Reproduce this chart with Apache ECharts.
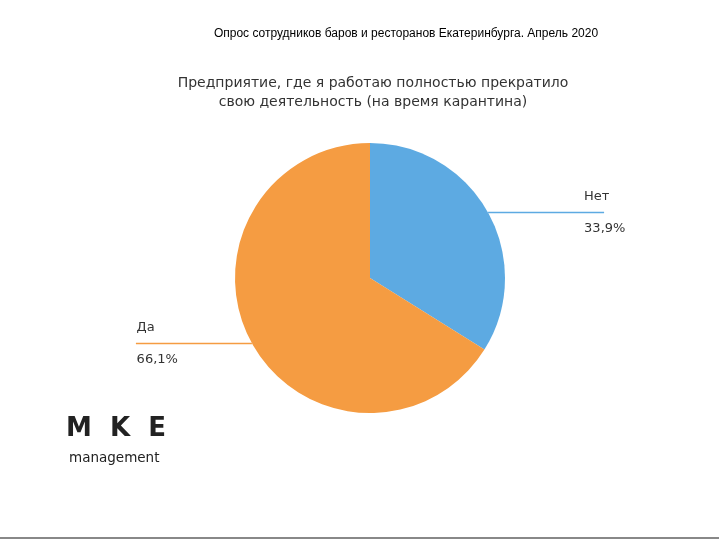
<!DOCTYPE html>
<html><head><meta charset="utf-8">
<script src="https://cdn.jsdelivr.net/npm/echarts@6/dist/echarts.min.js"></script>
<style>html,body{margin:0;padding:0;background:#fff}#c{width:719px;height:540px}</style>
</head><body><div id="c"></div>
<script>
var mainTitle = 'Опрос сотрудников баров и ресторанов Екатеринбурга. Апрель 2020';
var subTitle = 'Предприятие, где я работаю полностью прекратило\nсвою деятельность (на время карантина)';
var categories = ['Нет', 'Да'];
var values = [33.9, 66.1];
var colors = ['#5DAAE2', '#F59C42'];
var labelShift = [-20, -42];

var chart = echarts.init(document.getElementById('c'), null, {renderer: 'canvas'});
var data = categories.map(function (c, i) {
  return {
    name: c, value: values[i],
    itemStyle: {color: colors[i]},
    label: {distanceToLabelLine: labelShift[i]}
  };
});
chart.setOption({
  animation: false,
  backgroundColor: '#fff',
  title: [
    {text: mainTitle, left: 401, top: 23, textAlign: 'center',
     textStyle: {fontFamily: 'Liberation Sans', fontSize: 12, fontWeight: 'normal', color: '#000'}},
    {text: subTitle, left: 368, top: 69, textAlign: 'center',
     textStyle: {fontFamily: 'DejaVu Sans', fontSize: 14, fontWeight: 'normal', color: '#333', lineHeight: 19}}
  ],
  series: [{
    type: 'pie',
    center: [370, 278],
    radius: 135,
    startAngle: 90,
    clockwise: true,
    avoidLabelOverlap: false,
    data: data,
    label: {
      position: 'outside',
      formatter: function (p) {
        return '{n|' + p.name + '}\n{p|' + String(p.value).replace('.', ',') + '%}';
      },
      rich: {
        n: {fontFamily: 'DejaVu Sans', fontSize: 13, color: '#333', lineHeight: 32, align: 'left'},
        p: {fontFamily: 'DejaVu Sans', fontSize: 13, color: '#333', lineHeight: 32, align: 'left'}
      }
    },
    labelLine: {show: true, length: 0, length2: 116, smooth: false, lineStyle: {width: 1.5}}
  }],
  graphic: [
    {type: 'text', left: 66, top: 416, style: {text: 'M  K  E', fontFamily: 'DejaVu Sans', fontWeight: 'bold', fontSize: 26, fill: '#222'}},
    {type: 'text', left: 69, top: 451, style: {text: 'management', fontFamily: 'DejaVu Sans', fontSize: 13.5, fill: '#222'}},
    {type: 'rect', left: 0, top: 537, shape: {width: 719, height: 2}, style: {fill: '#888'}}
  ]
});
</script></body></html>
